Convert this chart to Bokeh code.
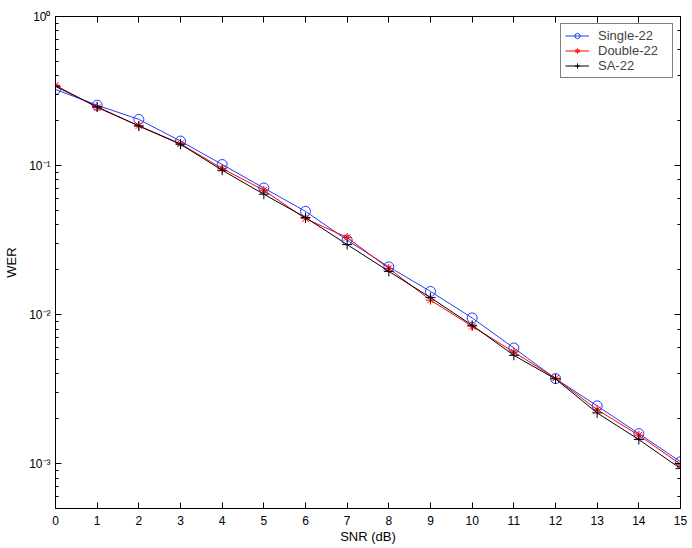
from bokeh.plotting import figure
from bokeh.models import (Range1d, LinearAxis, LogAxis, FixedTicker, LogTicker,
                          Legend, LegendItem, CustomJSTickFormatter)
from bokeh.embed import file_html
from bokeh.resources import INLINE

snr = [0, 1, 2, 3, 4, 5, 6, 7, 8, 9, 10, 11, 12, 13, 14, 15]
single_22 = [0.324, 0.254, 0.204, 0.146, 0.1016, 0.0707, 0.0493, 0.0316,
             0.0209, 0.0143, 0.0095, 0.00597, 0.00372, 0.00244, 0.00159, 0.00103]
double_22 = [0.346, 0.245, 0.185, 0.140, 0.0955, 0.0683, 0.0440, 0.0329,
             0.0204, 0.0125, 0.00834, 0.00561, 0.00374, 0.00230, 0.00155, 0.00099]
sa_22 = [0.340, 0.248, 0.184, 0.139, 0.0930, 0.0642, 0.0448, 0.0295,
         0.0195, 0.0130, 0.00848, 0.00533, 0.00370, 0.00219, 0.00145, 0.000926]
y_tick_labels = {1: "10\u2070", 0.1: "10\u207b\u00b9", 0.01: "10\u207b\u00b2",
                 0.001: "10\u207b\u00b3"}

FONT = "Liberation Sans"

p = figure(frame_width=625, frame_height=492, y_axis_type="log",
           x_range=Range1d(0, 15), y_range=Range1d(5e-4, 1),
           output_backend="svg", toolbar_location=None,
           min_border_left=55, min_border_right=12, min_border_top=16,
           min_border_bottom=38)
p.xgrid.visible = False
p.ygrid.visible = False
p.outline_line_color = "black"
p.outline_line_width = 1
p.background_fill_color = "white"
p.border_fill_color = "white"

p.xaxis.ticker = FixedTicker(ticks=snr)
p.xaxis.axis_label = "SNR (dB)"
p.yaxis.axis_label = "WER"
p.yaxis.major_label_overrides = y_tick_labels

for ax in p.xaxis + p.yaxis:
    ax.axis_line_color = "black"
    ax.major_tick_line_color = "black"
    ax.minor_tick_line_color = "black"
    ax.major_tick_in = 6
    ax.major_tick_out = 0
    ax.minor_tick_in = 3
    ax.minor_tick_out = 0
    ax.major_label_text_font = FONT
    ax.major_label_text_font_size = "12px"
    ax.major_label_text_color = "black"
    ax.axis_label_text_font = FONT
    ax.axis_label_text_font_size = "13px"
    ax.axis_label_text_font_style = "normal"
    ax.axis_label_text_color = "black"

p.xaxis.minor_tick_line_color = None
p.xaxis.major_label_standoff = 7
p.xaxis.axis_label_standoff = 1
p.yaxis.major_label_standoff = 5
p.yaxis.axis_label_standoff = 7

blank = CustomJSTickFormatter(code="return ''")
top = LinearAxis(ticker=FixedTicker(ticks=snr), formatter=blank,
                 major_tick_in=6, major_tick_out=0, minor_tick_line_color=None,
                 axis_line_color="black", major_label_standoff=0)
right = LogAxis(ticker=LogTicker(), formatter=blank,
                major_tick_in=6, major_tick_out=0, minor_tick_in=3, minor_tick_out=0,
                axis_line_color="black", major_label_standoff=0)
p.add_layout(top, "above")
p.add_layout(right, "right")

blue = "#1f3cff"
red = "#ff0000"
black = "#000000"

l1 = p.line(snr, single_22, line_color=blue, line_width=1)
m1 = p.scatter(snr, single_22, marker="circle", size=10, line_color=blue,
               fill_color=None, line_width=1)
l2 = p.line(snr, double_22, line_color=red, line_width=1)
m2 = p.scatter(snr, double_22, marker="asterisk", size=9, line_color=red,
               line_width=1)
l3 = p.line(snr, sa_22, line_color=black, line_width=1)
m3 = p.scatter(snr, sa_22, marker="cross", size=10, line_color=black,
               line_width=1)

legend = Legend(items=[LegendItem(label="Single-22", renderers=[l1, m1]),
                       LegendItem(label="Double-22", renderers=[l2, m2]),
                       LegendItem(label="SA-22", renderers=[l3, m3])],
                location="top_right", margin=7, padding=4, spacing=0,
                glyph_width=24, glyph_height=13, label_height=13,
                label_width=70, label_standoff=9,
                label_text_font=FONT, label_text_font_size="13px",
                border_line_color="black", border_line_width=1,
                background_fill_alpha=1)
p.add_layout(legend, "center")

open("out.html", "w").write(file_html(p, INLINE))
